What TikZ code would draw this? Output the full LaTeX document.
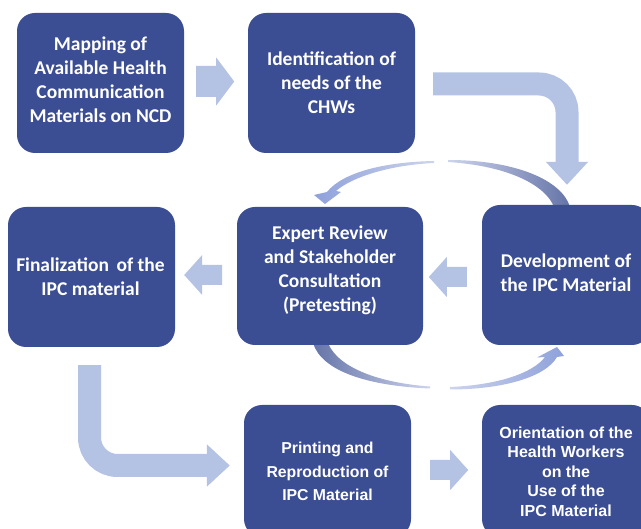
\documentclass[tikz,border=0pt]{standalone}
\usepackage{fontspec}
\setmainfont{Carlito}
\newfontfamily\arialfont{Liberation Sans}
\usetikzlibrary{arrows.meta,calc}
\definecolor{boxblue}{HTML}{3C4E93}
\definecolor{arrowblue}{HTML}{B4C3E4}
\definecolor{curvedark}{HTML}{6574A8}
\definecolor{curvelight}{HTML}{8EA1DB}
\definecolor{curvepale}{HTML}{CDD4EC}
\tikzset{
  pics/blockarrow/.style n args={2}{code={
    \fill[arrowblue] (0,-#1) -- (20,-#1) -- (20,-#2) -- (38,0) -- (20,#2) -- (20,#1) -- (0,#1) -- cycle;}},
}
\begin{document}
\begin{tikzpicture}[x=1pt,y=-1pt,
  stepbox/.style={draw=none, fill=boxblue, rounded corners=18pt, inner sep=0pt,
    minimum width=167pt, minimum height=140pt},
  boxtext/.style={text=white, font=\bfseries\fontsize{19.5}{24}\selectfont,
    align=center, inner sep=0pt},
  arialtext/.style={boxtext, font=\arialfont\bfseries\fontsize{15.8}{23.5}\selectfont},
  bentarrow/.style={draw=arrowblue, line width=23pt, rounded corners=28pt,
    -{Triangle[width=41pt,length=23pt]}},
]
\useasboundingbox (0,0) rectangle (641,529);
\clip (0,0) rectangle (641,529);

% curved feedback arrows (behind boxes)
\shade[left color=curvepale, right color=curvedark]
  (448,160) .. controls (515,160) and (562,180) .. (570,207)
  -- (554,207) .. controls (546,186) and (510,166) .. (448,162) -- cycle;
\shade[left color=curvelight, right color=curvepale]
  (434,161) .. controls (385,162) and (343,172) .. (327,192)
  -- (314,195) -- (325,204) -- (341,192) -- (336,191)
  .. controls (352,177) and (390,165) .. (434,163) -- cycle;
\shade[left color=curvedark, right color=curvepale]
  (313,343) .. controls (322,372) and (370,386) .. (430,388.5)
  -- (430,386.5) .. controls (380,383) and (338,368) .. (328,343) -- cycle;
\shade[left color=curvepale, right color=curvelight]
  (450,387) .. controls (498,385) and (533,373) .. (545,357)
  -- (537,357.5) -- (557,347) -- (564,356) -- (557,357)
  .. controls (545,378) and (500,389.5) .. (450,389.5) -- cycle;

% boxes
\node[stepbox] (map) at (100.5,83) {};
\node[boxtext] (mapText) at ($(map.center)+(0,-3.5)$) {Mapping of\\Available Health\\Communication\\Materials on NCD};
\node[stepbox] (ident) at (331.5,83) {};
\node[boxtext] (identText) at ($(ident.center)+(0,0)$) {Identification of\\needs of the\\CHWs};
\node[stepbox, minimum width=168pt] (dev) at (566,275) {};
\node[boxtext] (devText) at ($(dev.center)+(0,-2)$) {Development of\\the IPC Material};
\node[stepbox, minimum width=186pt, minimum height=138pt] (expert) at (330,276) {};
\node[boxtext] (expertText) at ($(expert.center)+(0,-5.5)$) {Expert Review\\and Stakeholder\\Consultation\\(Pretesting)};
\node[stepbox] (final) at (91.5,277) {};
\node[boxtext] (finalText) at ($(final.center)+(-1,0)$) {Finalization\, of the\\IPC material};
\node[stepbox, minimum height=132pt] (print) at (327.5,471) {};
\node[arialtext] (printText) at ($(print.center)+(0,0.5)$) {Printing and\\Reproduction of\\IPC Material};
\node[stepbox, minimum width=168pt, minimum height=132pt] (orient) at (566,471) {};
\node[arialtext, font=\arialfont\bfseries\fontsize{16}{19.5}\selectfont] (orientText)
  at ($(orient.center)+(0,0.5)$) {Orientation of the\\Health Workers\\on the\\Use of the\\IPC Material};

% straight block arrows
\pic at ($(map.east)+(12,-1.5)$) {blockarrow={15.5}{24}};
\pic[rotate=180] at ($(dev.west)+(-15,2)$) {blockarrow={10}{20}};
\pic[rotate=180] at ($(expert.east)+(-201,-1)$) {blockarrow={10}{20}};
\pic at ($(print.east)+(19,-1)$) {blockarrow={10}{20}};

% bent block arrows
\draw[bentarrow] ($(ident.east)+(18,1)$) -| ($(dev.north)+(1,-20)$);
\draw[bentarrow] ($(final.south)+(-2,18)$) |- ($(print.west)+(-14,-5.5)$);
\end{tikzpicture}
\end{document}
